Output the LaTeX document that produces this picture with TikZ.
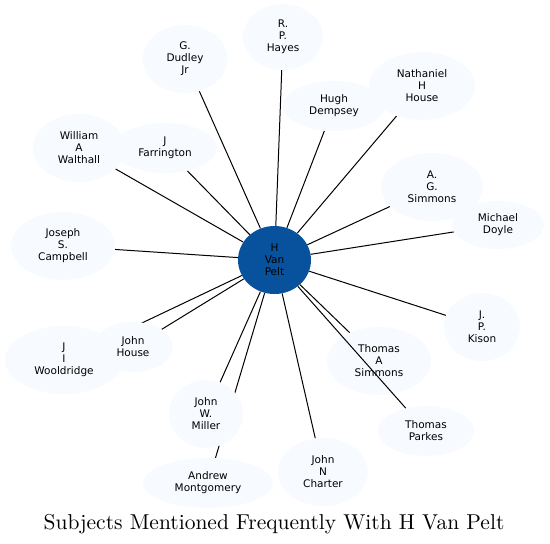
\documentclass[tikz,border=0pt]{standalone}
\usepackage{fontspec}
\setsansfont{DejaVu Sans}
\newfontfamily\titlefont{lmroman10-regular.otf}
\usepackage{tikz}
\usetikzlibrary{shapes.geometric, backgrounds}
\usepackage{xcolor}
\definecolor{hubblue}{HTML}{08519C}
\definecolor{paleblue}{HTML}{F7FBFF}

\begin{document}
\begin{tikzpicture}[x=1pt, y=-1pt,
    subj/.style={ellipse, fill=paleblue, inner sep=0pt, align=center,
      font=\sffamily\fontsize{10.5}{12}\selectfont},
    hub/.style={subj, fill=hubblue, minimum width=73pt, minimum height=68pt},
    link/.style={line width=1pt}]
    \useasboundingbox (0,0) rectangle (550,544);
    \node[hub] (vanpelt) at (274.5,260) {H\\Van\\Pelt};
    \node[subj, minimum width=80pt, minimum height=66pt] (hayes) at (283,37) {R.\\P.\\Hayes};
    \node[subj, minimum width=85pt, minimum height=68pt] (dudley) at (185,59) {G.\\Dudley\\Jr};
    \node[subj, minimum width=102pt, minimum height=50pt] (dempsey) at (334,106) {Hugh\\Dempsey};
    \node[subj, minimum width=106pt, minimum height=68pt] (nhouse) at (422,86) {Nathaniel\\H\\House};
    \node[subj, minimum width=92pt, minimum height=68pt] (walthall) at (79,148) {William\\A\\Walthall};
    \node[subj, minimum width=104pt, minimum height=50pt] (farrington) at (165,148) {J\\Farrington};
    \node[subj, minimum width=102pt, minimum height=68pt] (agsimmons) at (432,187) {A.\\G.\\Simmons};
    \node[subj, minimum width=92pt, minimum height=48pt] (doyle) at (498,225) {Michael\\Doyle};
    \node[subj, minimum width=104pt, minimum height=68pt] (campbell) at (63,246) {Joseph\\S.\\Campbell};
    \node[subj, minimum width=118pt, minimum height=68pt] (wooldridge) at (64,360) {J\\I\\Wooldridge};
    \node[subj, minimum width=80pt, minimum height=50pt] (jhouse) at (133,347) {John\\House};
    \node[subj, minimum width=74pt, minimum height=68pt] (miller) at (206,414) {John\\W.\\Miller};
    \node[subj, minimum width=130pt, minimum height=50pt] (montgomery) at (208,483) {Andrew\\Montgomery};
    \node[subj, minimum width=90pt, minimum height=68pt] (charter) at (323,472) {John\\N\\Charter};
    \node[subj, minimum width=104pt, minimum height=68pt] (tasimmons) at (379,361) {Thomas\\A\\Simmons};
    \node[subj, minimum width=96pt, minimum height=50pt] (parkes) at (426,431) {Thomas\\Parkes};
    \node[subj, minimum width=76pt, minimum height=68pt] (kison) at (482,327) {J.\\P.\\Kison};
    % edges go behind the ellipses
    \begin{pgfonlayer}{background}
    \foreach \s in {hayes, dudley, dempsey, nhouse, walthall, farrington, agsimmons, doyle,
        campbell, wooldridge, jhouse, miller, montgomery, charter, tasimmons, kison}
        \draw[link] (vanpelt) -- (\s);
    \end{pgfonlayer}
    \draw[link] (vanpelt) -- (parkes);
    \node[anchor=base, font=\titlefont\fontsize{21.5}{26}\selectfont] (title) at (274,529)
        {Subjects Mentioned Frequently With H Van Pelt};
\end{tikzpicture}
\end{document}
